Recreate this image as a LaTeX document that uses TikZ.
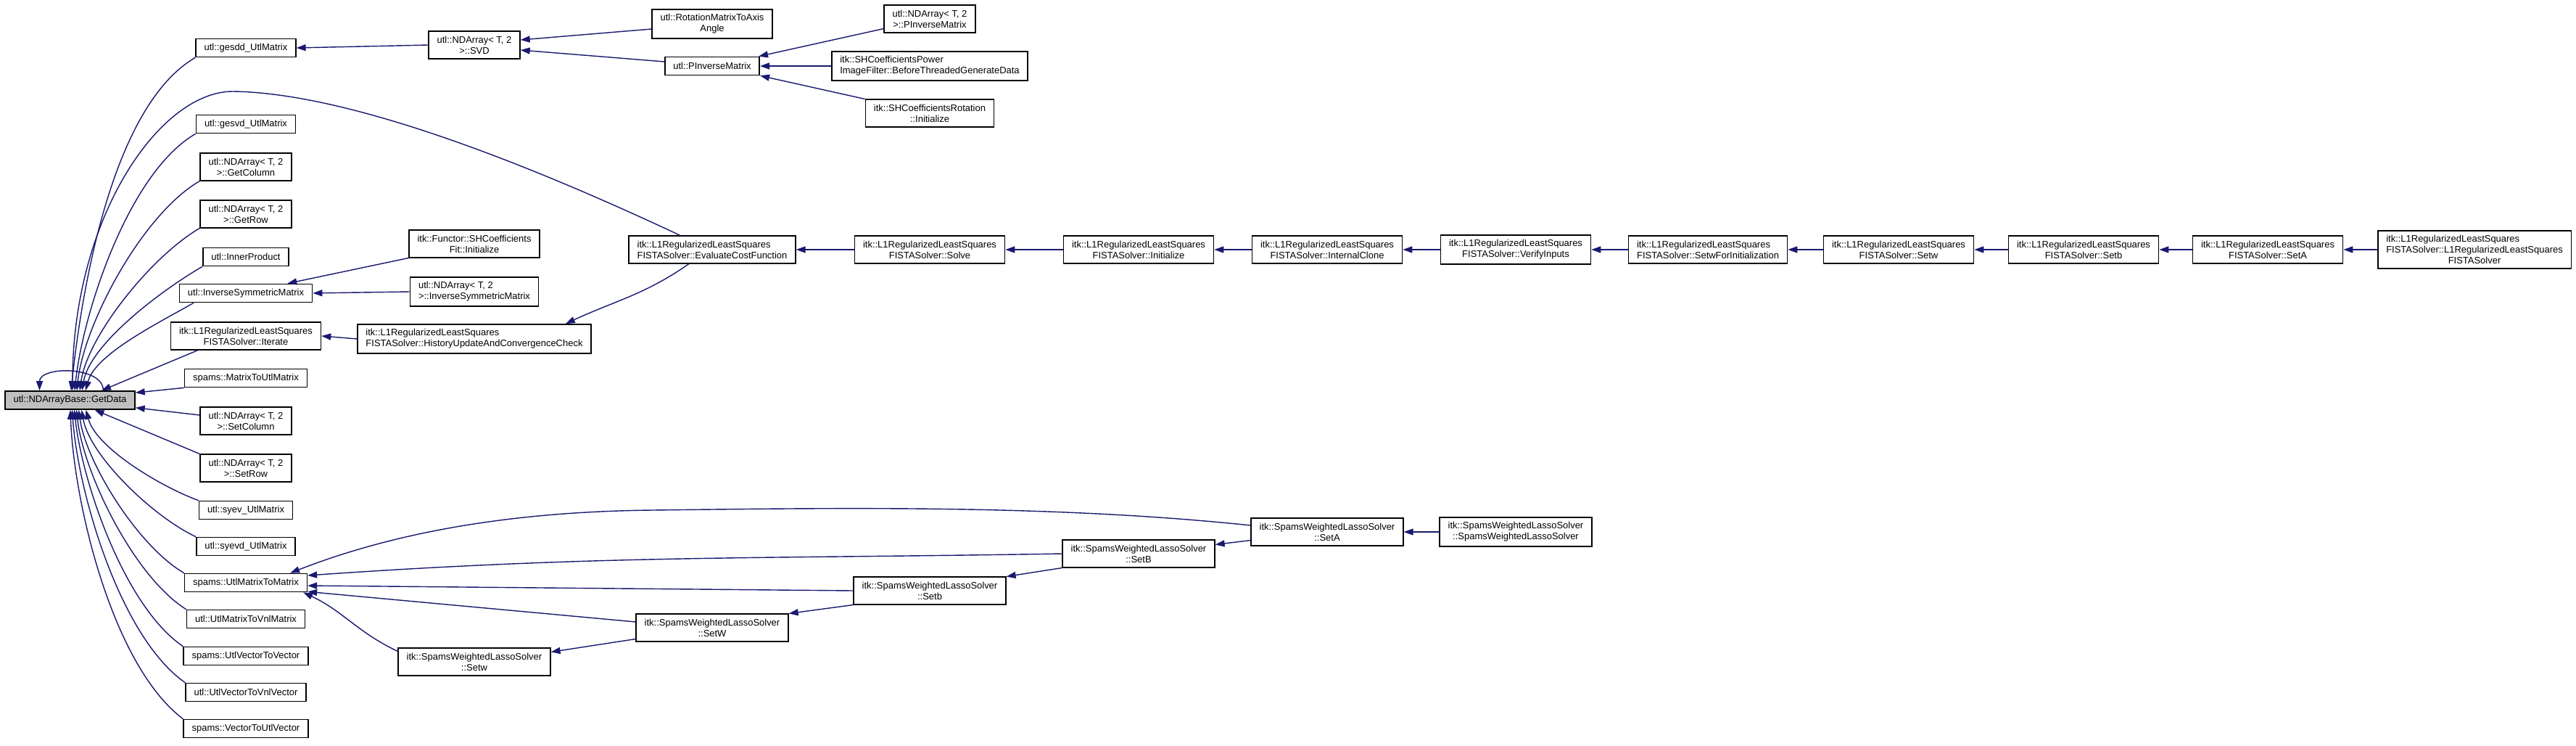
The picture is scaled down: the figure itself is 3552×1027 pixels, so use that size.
\documentclass[tikz,border=0pt]{standalone}
\usepackage{fontspec}
\setmainfont{Liberation Sans}
\usetikzlibrary{arrows.meta, calc, positioning}
\definecolor{edgeBlue} {RGB}{ 25, 25,112}
\definecolor{focusGray}{RGB}{191,191,191}

\begin{document}
\begin{tikzpicture}[
  x=0.01cm, y=-0.01cm,
  %% Function box
  fn/.style={
    rectangle, draw=black, fill=white, line width=0.45pt,
    inner xsep=0.115cm, inner ysep=0.065cm, minimum height=0.25cm,
    align=center, font=\fontsize{3.69pt}{4.25pt}\selectfont
  },
  %% Function box with left-set lines
  fnl/.style={fn, align=left},
  %% The function whose callers are shown
  focus/.style={fn, fill=focusGray},
  %% Call edge (tip at the callee)
  call/.style={-{Triangle[length=0.13cm,width=0.09cm]}, color=edgeBlue, line width=0.4pt},
]

%% ── Column x positions (left to right) ──────────────────────────────────────
\def\xR{96.5}  % root
\def\xA{339}
\def\xB{654}
\def\xC{982}
\def\xD{1282}
\def\xE{1570}
\def\xF{1830}
\def\xG{2090}
\def\xH{2355}
\def\xI{2618}
\def\xJ{2873}
\def\xK{3127}
\def\xL{3412}
\def\yF{344}   % FISTA solver chain

\useasboundingbox (0,0) rectangle (3552,1027);

%% ── ROOT ────────────────────────────────────────────────────────────────────
\node[focus] (GetData) at (\xR,551.5) {utl::NDArrayBase::GetData};

%% ── COLUMN A: direct callers ────────────────────────────────────────────────
\node[fn] (gesdd)        at (\xA,66)   {utl::gesdd\_UtlMatrix};
\node[fn] (gesvd)        at (\xA,171)  {utl::gesvd\_UtlMatrix};
\node[fn] (GetColumn)    at (\xA,230)  {utl::NDArray< T, 2\\>::GetColumn};
\node[fn] (GetRow)       at (\xA,295)  {utl::NDArray< T, 2\\>::GetRow};
\node[fn] (InnerProduct) at (\xA,354)  {utl::InnerProduct};
\node[fn] (InvSym)       at (\xA,404)  {utl::InverseSymmetricMatrix};
\node[fn] (Iterate)      at (\xA,463)  {itk::L1RegularizedLeastSquares\\FISTASolver::Iterate};
\node[fn] (MatToUtl)     at (\xA,521)  {spams::MatrixToUtlMatrix};
\node[fn] (SetColumn)    at (\xA,580)  {utl::NDArray< T, 2\\>::SetColumn};
\node[fn] (SetRow)       at (\xA,645)  {utl::NDArray< T, 2\\>::SetRow};
\node[fn] (syev)         at (\xA,703)  {utl::syev\_UtlMatrix};
\node[fn] (syevd)        at (\xA,753)  {utl::syevd\_UtlMatrix};
\node[fn] (UtlToMat)     at (\xA,803)  {spams::UtlMatrixToMatrix};
\node[fn] (UtlToVnlMat)  at (\xA,853)  {utl::UtlMatrixToVnlMatrix};
\node[fn] (UtlVecToVec)  at (\xA,904)  {spams::UtlVectorToVector};
\node[fn] (UtlVecToVnl)  at (\xA,954)  {utl::UtlVectorToVnlVector};
\node[fn] (VecToUtlVec)  at (\xA,1004) {spams::VectorToUtlVector};

%% ── COLUMN B ────────────────────────────────────────────────────────────────
\node[fn]  (SVD)      at (\xB,62)  {utl::NDArray< T, 2\\>::SVD};
\node[fn]  (ShFit)    at (\xB,336) {itk::Functor::SHCoefficients\\Fit::Initialize};
\node[fnl] (NdInvSym) at (\xB,402) {utl::NDArray< T, 2\\>::InverseSymmetricMatrix};
\node[fnl] (History)  at (\xB,467) {itk::L1RegularizedLeastSquares\\FISTASolver::HistoryUpdateAndConvergenceCheck};
\node[fn]  (SpSetw)   at (\xB,912) {itk::SpamsWeightedLassoSolver\\::Setw};

%% ── COLUMN C ────────────────────────────────────────────────────────────────
\node[fn]  (RotAxis)  at (\xC,33)  {utl::RotationMatrixToAxis\\Angle};
\node[fn]  (PInv)     at (\xC,91)  {utl::PInverseMatrix};
\node[fnl] (Evaluate) at (\xC,\yF) {itk::L1RegularizedLeastSquares\\FISTASolver::EvaluateCostFunction};
\node[fn]  (SpSetW)   at (\xC,865) {itk::SpamsWeightedLassoSolver\\::SetW};

%% ── COLUMN D ────────────────────────────────────────────────────────────────
\node[fn]  (NdPInv)  at (\xD,26)  {utl::NDArray< T, 2\\>::PInverseMatrix};
\node[fnl] (ShPower) at (\xD,91)  {itk::SHCoefficientsPower\\ImageFilter::BeforeThreadedGenerateData};
\node[fn]  (ShRot)   at (\xD,156) {itk::SHCoefficientsRotation\\::Initialize};
\node[fn]  (Solve)   at (\xD,\yF) {itk::L1RegularizedLeastSquares\\FISTASolver::Solve};
\node[fn]  (SpSetb)  at (\xD,814) {itk::SpamsWeightedLassoSolver\\::Setb};

%% ── COLUMNS E -- L ──────────────────────────────────────────────────────────
\node[fn]  (Init)     at (\xE,\yF) {itk::L1RegularizedLeastSquares\\FISTASolver::Initialize};
\node[fn]  (SpSetB)   at (\xE,763) {itk::SpamsWeightedLassoSolver\\::SetB};
\node[fn]  (Clone)    at (\xF,\yF) {itk::L1RegularizedLeastSquares\\FISTASolver::InternalClone};
\node[fn]  (SpSetA)   at (\xF,733) {itk::SpamsWeightedLassoSolver\\::SetA};
\node[fn]  (Verify)   at (\xG,\yF) {itk::L1RegularizedLeastSquares\\FISTASolver::VerifyInputs};
\node[fn]  (SpCtor)   at (\xG,733) {itk::SpamsWeightedLassoSolver\\::SpamsWeightedLassoSolver};
\node[fnl] (SetwInit) at (\xH,\yF) {itk::L1RegularizedLeastSquares\\FISTASolver::SetwForInitialization};
\node[fn]  (Setw)     at (\xI,\yF) {itk::L1RegularizedLeastSquares\\FISTASolver::Setw};
\node[fn]  (Setb)     at (\xJ,\yF) {itk::L1RegularizedLeastSquares\\FISTASolver::Setb};
\node[fn]  (SetA)     at (\xK,\yF) {itk::L1RegularizedLeastSquares\\FISTASolver::SetA};
\node[fnl] (Ctor)     at (\xL,\yF)
  {itk::L1RegularizedLeastSquares\\FISTASolver::L1RegularizedLeastSquares\\
   \hspace*{0pt plus 1filll}FISTASolver\hspace*{0pt plus 1filll}};

%% ── CALLS INTO THE ROOT (upper fan) ─────────────────────────────────────────
\draw[call] ($(GetData.north)+(46,0)$)
  .. controls ($(GetData.north)+(46,-34)$) and ($(GetData.north)+(-42,-34)$)
  .. ($(GetData.north)+(-42,0)$);
\draw[call] (gesdd.south west) to[out=210,in=84,looseness=0.7] ($(GetData.north)+(1.5,0)$);
\draw[call] ($(Evaluate.north)+(-44,0)$) .. controls (711,218) and (475,128) .. (321,126)
  .. controls (220,126) and (100,300) .. ($(GetData.north)+(3.5,0)$);
\draw[call] (gesvd.south west) to[out=210,in=84,looseness=0.7] ($(GetData.north)+(6.5,0)$);
\draw[call] (GetColumn.south west) to[out=210,in=84,looseness=0.7] ($(GetData.north)+(9.5,0)$);
\draw[call] (GetRow.south west) to[out=210,in=82,looseness=0.7] ($(GetData.north)+(13.5,0)$);
\draw[call] (InnerProduct.south west) to[out=210,in=80,looseness=0.7] ($(GetData.north)+(16.5,0)$);
\draw[call] ($(InvSym.south)+(-72,0)$) to[out=210,in=75,looseness=0.7] ($(GetData.north)+(21.5,0)$);
\draw[call] ($(Iterate.south)+(-66,0)$) -- ($(GetData.north)+(43.5,0)$);
\draw[call] (MatToUtl.south west) -- ($(GetData.north east)+(0,3)$);

%% ── CALLS INTO THE ROOT (lower fan) ─────────────────────────────────────────
\draw[call] ($(SetColumn.west)+(0,-8)$) -- ($(GetData.south east)+(0,-3)$);
\draw[call] (SetRow.north west) -- ($(GetData.south)+(34,0)$);
\draw[call] (syev.north west) to[out=160,in=-75,looseness=0.7] ($(GetData.south)+(22,0)$);
\draw[call] (syevd.north west) to[out=155,in=-80,looseness=0.7] ($(GetData.south)+(16,0)$);
\draw[call] (UtlToMat.north west) to[out=150,in=-82,looseness=0.7] ($(GetData.south)+(12,0)$);
\draw[call] (UtlToVnlMat.north west) to[out=148,in=-84,looseness=0.7] ($(GetData.south)+(9,0)$);
\draw[call] (UtlVecToVec.north west) to[out=146,in=-84,looseness=0.7] ($(GetData.south)+(6,0)$);
\draw[call] (UtlVecToVnl.north west) to[out=145,in=-86,looseness=0.7] ($(GetData.south)+(3,0)$);
\draw[call] (VecToUtlVec.north west) to[out=143,in=-88,looseness=0.7] ($(GetData.south)+(0.5,0)$);

%% ── SVD / PINVERSE BRANCH ───────────────────────────────────────────────────
\draw[call] (SVD.west) -- (gesdd.east);
\draw[call] ($(RotAxis.west)+(0,7)$) -- ($(SVD.east)+(0,-7)$);
\draw[call] ($(PInv.west)+(0,-6)$) -- ($(SVD.east)+(0,7)$);
\draw[call] ($(NdPInv.south west)+(0,-6)$) -- ($(PInv.north east)+(-2,0)$);
\draw[call] (ShPower.west) -- (PInv.east);
\draw[call] (ShRot.north west) -- (PInv.south east);

%% ── INVERSE SYMMETRIC / ITERATE BRANCH ──────────────────────────────────────
\draw[call] (ShFit.south west) -- ($(InvSym.north east)+(-35,0)$);
\draw[call] (NdInvSym.west) -- (InvSym.east);
\draw[call] (History.west) -- (Iterate.east);
\draw[call] ($(Evaluate.south)+(-32,0)$) to[out=215,in=25] ($(History.north east)+(-36,0)$);

%% ── FISTA SOLVER CHAIN ──────────────────────────────────────────────────────
\draw[call] (Solve.west) -- (Evaluate.east);
\draw[call] (Init.west) -- (Solve.east);
\draw[call] (Clone.west) -- (Init.east);
\draw[call] (Verify.west) -- (Clone.east);
\draw[call] (SetwInit.west) -- (Verify.east);
\draw[call] (Setw.west) -- (SetwInit.east);
\draw[call] (Setb.west) -- (Setw.east);
\draw[call] (SetA.west) -- (Setb.east);
\draw[call] (Ctor.west) -- (SetA.east);

%% ── SPAMS WEIGHTED LASSO BRANCH ─────────────────────────────────────────────
\draw[call] (SpCtor.west) -- (SpSetA.east);
\draw[call] ($(SpSetA.south west)+(0,-8)$) -- ($(SpSetB.north east)+(0,7)$);
\draw[call] (SpSetB.south west) -- (SpSetb.north east);
\draw[call] (SpSetb.south west) -- (SpSetW.north east);
\draw[call] ($(SpSetW.south west)+(0,-4)$) -- ($(SpSetw.north east)+(0,6)$);
\draw[call] ($(SpSetA.west)+(0,-9)$) .. controls (1450,695) and (1150,700) .. (900,703)
  .. controls (700,705) and (540,735) .. ($(UtlToMat.north east)+(-24,0)$);
\draw[call] (SpSetB.west) to[out=181,in=4] ($(UtlToMat.east)+(0,-10)$);
\draw[call] (SpSetb.west) -- ($(UtlToMat.east)+(0,4)$);
\draw[call] ($(SpSetW.west)+(0,-8)$) -- ($(UtlToMat.south east)+(0,-1)$);
\draw[call] ($(SpSetw.north west)+(0,5)$) to[out=155,in=-25] ($(UtlToMat.south east)+(-6,0)$);

\end{tikzpicture}
\end{document}
